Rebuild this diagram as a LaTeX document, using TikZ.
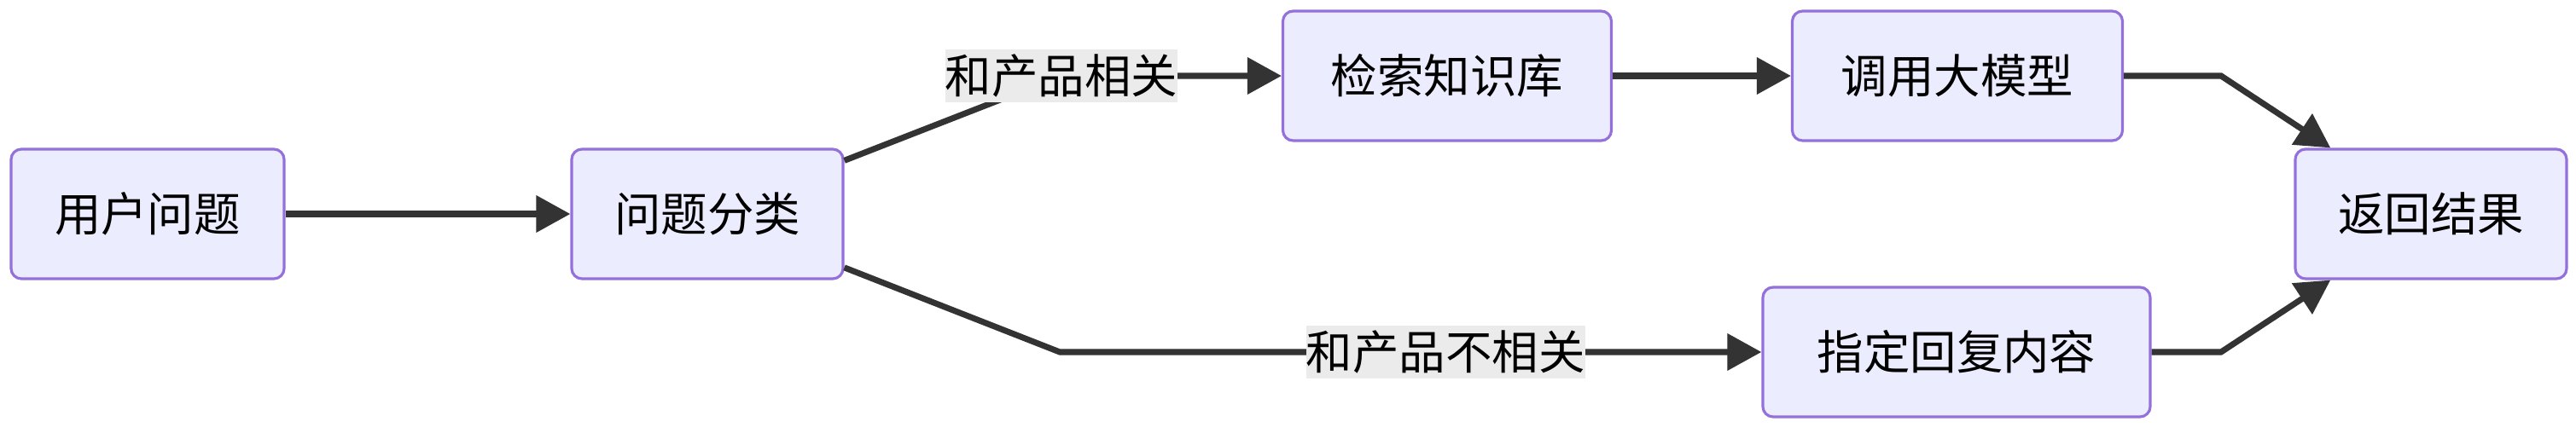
\documentclass[tikz,border=0pt]{standalone}
\usepackage{fontspec}
\setmainfont{Noto Sans CJK SC}
\usepackage{xcolor}
\usetikzlibrary{arrows.meta}

\definecolor{boxfill}{HTML}{ECECFF}
\definecolor{boxline}{HTML}{9370DB}
\definecolor{flowgray}{HTML}{333333}
\definecolor{labelbg}{HTML}{EBEBEB}

\begin{document}
\begin{tikzpicture}[
    every node/.style={font=\fontsize{15.5}{18}\selectfont},
    flowbox/.style={draw=boxline, fill=boxfill, line width=0.9pt,
      rounded corners=0.12cm, minimum height=1.52cm, inner sep=0pt},
    flowline/.style={draw=flowgray, line width=2pt,
      -{Triangle[length=0.40cm, width=0.42cm]}},
    elabel/.style={fill=labelbg, inner xsep=0pt, inner ysep=0pt,
      minimum height=0.62cm},
  ]
    % 画布大小
    \useasboundingbox (0,0) rectangle (30.19,-5.15);

    % 流程节点
    \node[flowbox, minimum width=3.20cm] (user)  at (1.73,-2.51)  {用户问题};
    \node[flowbox, minimum width=3.18cm] (cls)   at (8.29,-2.51)  {问题分类};
    \node[flowbox, minimum width=3.85cm] (kb)    at (16.96,-0.89) {检索知识库};
    \node[flowbox, minimum width=3.87cm] (llm)   at (22.94,-0.89) {调用大模型};
    \node[flowbox, minimum width=3.18cm] (ret)   at (28.49,-2.51) {返回结果};
    \node[flowbox, minimum width=4.54cm] (reply) at (22.93,-4.13) {指定回复内容};

    % 折线拐点
    \coordinate (bendA) at (12.44,-0.89);
    \coordinate (bendB) at (12.42,-4.13);
    \coordinate (bendC) at (26.03,-0.89);
    \coordinate (bendD) at (26.03,-4.13);

    % 连线
    \draw[flowline] (user) -- (cls);
    \draw[flowline] (cls) -- (bendA) node[elabel] (lblA) {和产品相关} -- (kb);
    \draw[flowline] (cls) -- (bendB)
      -- node[elabel, pos=0.55] (lblB) {和产品不相关} (reply);
    \draw[flowline] (kb) -- (llm);
    \draw[flowline] (llm) -- (bendC) -- (ret);
    \draw[flowline] (reply) -- (bendD) -- (ret);
  \end{tikzpicture}
\end{document}
